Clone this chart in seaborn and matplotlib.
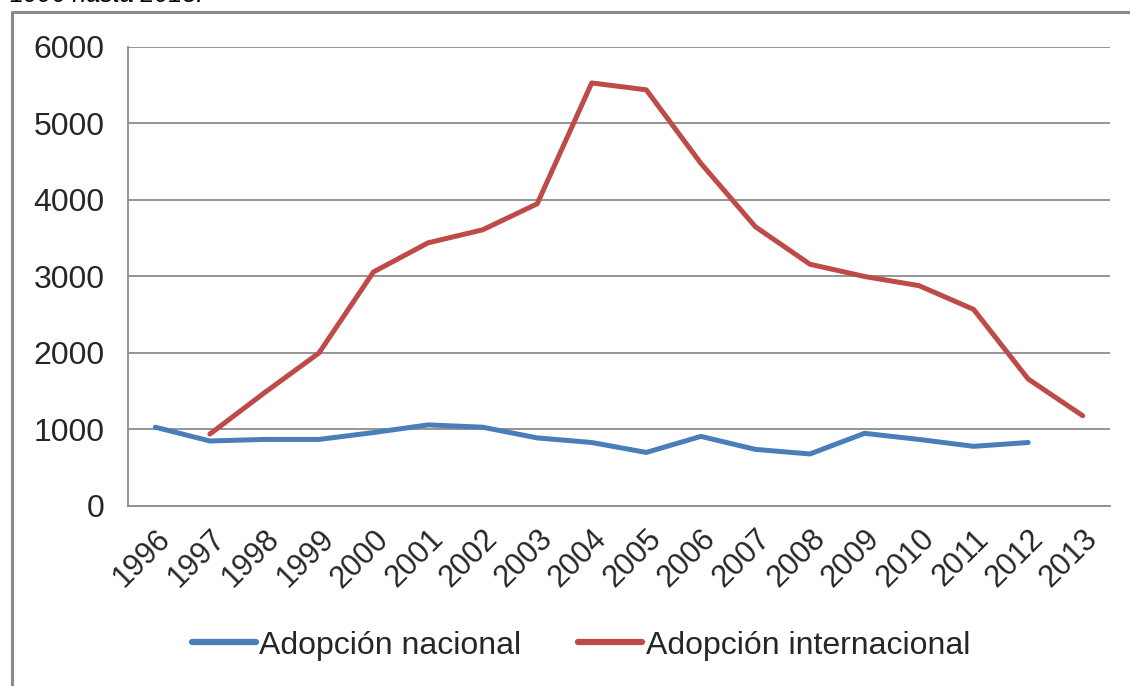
import matplotlib
matplotlib.use("Agg")
import matplotlib.pyplot as plt
import numpy as np
import pandas as pd
import seaborn as sns

# datos
years = ['1996', '1997', '1998', '1999', '2000', '2001', '2002', '2003', '2004',
         '2005', '2006', '2007', '2008', '2009', '2010', '2011', '2012', '2013']
nacional = [1030, 850, 870, 870, 960, 1060, 1030, 890, 830,
            700, 910, 740, 680, 950, 870, 780, 830, np.nan]
internacional = [np.nan, 940, 1480, 2000, 3060, 3440, 3610, 3950, 5530,
                 5440, 4480, 3650, 3160, 3000, 2880, 2570, 1660, 1180]
series_names = ['Adopción nacional', 'Adopción internacional']
colores = ['#4A7EBB', '#BE4B48']
yticks = [0, 1000, 2000, 3000, 4000, 5000, 6000]

pos = np.arange(len(years))
df = pd.DataFrame({
    'pos': np.concatenate([pos, pos]),
    'valor': nacional + internacional,
    'serie': [series_names[0]] * len(years) + [series_names[1]] * len(years),
})

sns.set_theme(style='white')
plt.rcParams['font.family'] = ['Liberation Sans', 'DejaVu Sans']

fig = plt.figure(figsize=(11.3, 6.86), dpi=100)
ax = fig.add_axes([0.1133, 0.2624, 0.8690, 0.6691])

sns.lineplot(data=df, x='pos', y='valor', hue='serie', palette=colores,
             linewidth=3.6, ax=ax, legend=False, estimator=None)

ax.set_xlim(-0.5, len(years) - 0.5)
ax.set_ylim(0, 6000)
ax.set_yticks(yticks)
ax.set_yticklabels([str(v) for v in yticks], fontsize=23)
ax.yaxis.grid(True, color='#8C8C8C', linewidth=1.3)
ax.set_axisbelow(True)

# etiquetas en el centro de cada categoria, marcas en los limites
ax.set_xticks(pos)
ax.set_xticklabels(years, fontsize=22, rotation=45, ha='right', rotation_mode='anchor')
ax.set_xticks(np.arange(len(years) + 1) - 0.5, minor=True)
ax.tick_params(axis='x', which='major', length=0, pad=13)
ax.tick_params(axis='x', which='minor', length=8, width=1.3, color='#8C8C8C', direction='out')
ax.tick_params(axis='y', length=8, width=1.3, color='#8C8C8C', direction='out', pad=9)
ax.set_xlabel('')
ax.set_ylabel('')

for lado in ['top', 'right']:
    ax.spines[lado].set_visible(False)
for lado in ['left', 'bottom']:
    ax.spines[lado].set_color('#8C8C8C')
    ax.spines[lado].set_linewidth(1.3)

handles = [plt.Line2D([], [], color=c, linewidth=4.5, solid_capstyle='round') for c in colores]
fig.legend(handles, series_names, loc='center', bbox_to_anchor=(0.514, 0.059), ncol=2,
           frameon=False, fontsize=23, handlelength=2.0, handletextpad=0.1, columnspacing=1.8)

# marco exterior gris
fig.add_artist(plt.Line2D([12 / 1130, 12 / 1130], [0, 1 - 12 / 686], transform=fig.transFigure,
                          color='#8A8A8A', linewidth=2.2))
fig.add_artist(plt.Line2D([12 / 1130, 1], [1 - 12 / 686, 1 - 12 / 686], transform=fig.transFigure,
                          color='#8A8A8A', linewidth=2.2))

# titulo recortado en la parte superior
fig.text(10 / 1130, 1 - 2 / 686, '1996 hasta 2013.', fontsize=18, style='italic',
         ha='left', va='baseline', color='black')

fig.savefig('out.png', dpi=100)
